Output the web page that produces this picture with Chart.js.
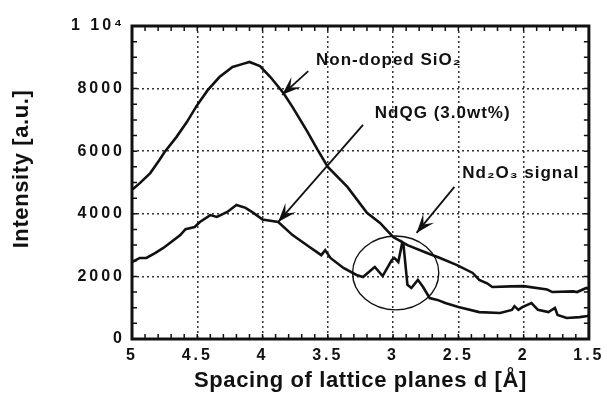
<!DOCTYPE html>
<html lang="en">
<head>
<meta charset="UTF-8">
<title>Intensity vs spacing of lattice planes</title>
<script src="https://cdn.jsdelivr.net/npm/chart.js"></script>
<style>
  body { margin: 0; background: #fff; }
  #chart { display: block; }
</style>
</head>
<body>
<canvas id="chart" width="607" height="393"></canvas>
<script>
// d spacing [A] and intensity [a.u.]
var dSio2 = [5.0, 4.985, 4.94, 4.86, 4.79, 4.75, 4.66, 4.58, 4.50, 4.42, 4.33, 4.23, 4.15, 4.10, 4.02, 3.94,
             3.84, 3.77, 3.66, 3.58, 3.50, 3.35, 3.20, 3.10, 3.00, 2.89, 2.74, 2.64, 2.51, 2.39, 2.34, 2.28,
             2.24, 2.10, 2.00, 1.82, 1.78, 1.62, 1.59, 1.52, 1.50];
var iSio2 = [4780, 4820, 4980, 5300, 5720, 5975, 6450, 6930, 7480, 7950, 8370, 8690, 8790, 8850, 8720, 8370,
             7860, 7410, 6650, 6060, 5500, 4860, 4030, 3710, 3260, 3000, 2750, 2590, 2360, 2110, 1890, 1780,
             1660, 1680, 1690, 1580, 1500, 1520, 1500, 1630, 1600];

var dNdqg = [5.0, 4.94, 4.89, 4.82, 4.76, 4.63, 4.59, 4.52, 4.48, 4.40, 4.35, 4.27, 4.20, 4.13, 4.07, 4.0,
             3.88, 3.77, 3.64, 3.55, 3.52, 3.48, 3.38, 3.28, 3.23, 3.15, 3.14, 3.08, 3.01, 2.99, 2.96, 2.93,
             2.92, 2.89, 2.86, 2.81, 2.77, 2.72, 2.66, 2.60, 2.50, 2.34, 2.18, 2.09, 2.07, 2.04, 2.01, 1.94,
             1.89, 1.81, 1.76, 1.74, 1.67, 1.57, 1.51, 1.50];
var iNdqg = [2460, 2590, 2590, 2750, 2910, 3320, 3510, 3580, 3740, 3960, 3900, 4060, 4280, 4190, 4030, 3820,
             3740, 3320, 2940, 2680, 2840, 2590, 2270, 2045, 1980, 2270, 2300, 2010, 2520, 2590, 2460, 3070,
             3000, 1730, 1630, 1890, 1660, 1310, 1250, 1150, 1020, 860, 830, 930, 1050, 930, 1020, 1150,
             930, 860, 990, 770, 670, 700, 735, 760];

var xTicks = [5, 4.5, 4, 3.5, 3, 2.5, 2, 1.5];
var yTicks = [0, 2000, 4000, 6000, 8000, 10000];

var xTitle = 'Spacing of lattice planes d [Å]';
var yTitle = 'Intensity [a.u.]';

// annotation positions in data units
var notes = [
  { text: 'Non-doped SiO₂', d: 3.59, v: 8900 },
  { text: 'NdQG (3.0wt%)', d: 3.14, v: 7220 },
  { text: 'Nd₂O₃ signal', d: 2.47, v: 5300 }
];
var arrows = [
  { from: [3.65, 8560], to: [3.85, 7800] },
  { from: [3.23, 6840], to: [3.88, 3740] },
  { from: [2.53, 4860], to: [2.82, 3390] }
];
var ring = { d: 2.98, v: 2110, rd: 0.33, rv: 1180 };

var FONT = '"Liberation Sans", Arial, Helvetica, sans-serif';

function toPoints(xs, ys) {
  var out = [];
  for (var i = 0; i < xs.length; i++) out.push({ x: xs[i], y: ys[i] });
  return out;
}

function drawArrow(ctx, x1, y1, x2, y2) {
  ctx.beginPath();
  ctx.moveTo(x1, y1);
  ctx.lineTo(x2, y2);
  ctx.stroke();
  var ang = Math.atan2(y2 - y1, x2 - x1);
  ctx.save();
  ctx.translate(x2, y2);
  ctx.rotate(ang);
  ctx.beginPath();
  ctx.moveTo(0, 0);
  ctx.lineTo(-19, -7);
  ctx.lineTo(-11, 0);
  ctx.lineTo(-19, 7);
  ctx.closePath();
  ctx.fill();
  ctx.restore();
}

var decor = {
  id: 'decor',
  beforeDraw: function (chart) {
    chart.ctx.letterSpacing = '3px';
  },
  afterDraw: function (chart) {
    var ctx = chart.ctx, sx = chart.scales.x, sy = chart.scales.y, a = chart.chartArea;
    ctx.save();
    ctx.letterSpacing = '0px';
    ctx.strokeStyle = '#111';
    ctx.fillStyle = '#111';

    // minor ticks, inward on all sides
    ctx.lineWidth = 1.5;
    ctx.beginPath();
    for (var i = 15; i <= 50; i++) {
      var px = sx.getPixelForValue(i / 10);
      ctx.moveTo(px, a.bottom); ctx.lineTo(px, a.bottom - 5);
      ctx.moveTo(px, a.top); ctx.lineTo(px, a.top + 5);
    }
    for (var v = 0; v <= 10000; v += 500) {
      var py = sy.getPixelForValue(v);
      ctx.moveTo(a.left, py); ctx.lineTo(a.left + 5, py);
      ctx.moveTo(a.right, py); ctx.lineTo(a.right - 5, py);
    }
    ctx.stroke();

    // frame
    ctx.lineWidth = 3;
    ctx.strokeRect(a.left, a.top, a.right - a.left, a.bottom - a.top);

    // circle round the Nd2O3 signal
    var cx = sx.getPixelForValue(ring.d), cy = sy.getPixelForValue(ring.v);
    var rx = Math.abs(sx.getPixelForValue(ring.d + ring.rd) - cx);
    var ry = Math.abs(sy.getPixelForValue(ring.v + ring.rv) - cy);
    ctx.lineWidth = 1.4;
    ctx.beginPath();
    ctx.ellipse(cx, cy, rx, ry, 0, 0, Math.PI * 2);
    ctx.stroke();

    // arrows
    ctx.lineWidth = 1.8;
    arrows.forEach(function (ar) {
      drawArrow(ctx,
        sx.getPixelForValue(ar.from[0]), sy.getPixelForValue(ar.from[1]),
        sx.getPixelForValue(ar.to[0]), sy.getPixelForValue(ar.to[1]));
    });

    // labels
    ctx.font = 'bold 17px ' + FONT;
    ctx.letterSpacing = '1px';
    ctx.textAlign = 'left';
    ctx.textBaseline = 'middle';
    notes.forEach(function (n) {
      ctx.fillText(n.text, sx.getPixelForValue(n.d), sy.getPixelForValue(n.v));
    });

    // axis titles
    ctx.font = 'bold 22px ' + FONT;
    ctx.letterSpacing = '0.6px';
    ctx.textAlign = 'center';
    ctx.fillText(xTitle, (a.left + a.right) / 2, 381);
    ctx.translate(22, 169);
    ctx.rotate(-Math.PI / 2);
    ctx.fillText(yTitle, 0, 0);
    ctx.restore();
  }
};

var tickFont = { family: FONT, size: 16, weight: 'bold' };

new Chart(document.getElementById('chart'), {
  type: 'scatter',
  data: {
    datasets: [
      { label: 'Non-doped SiO2', data: toPoints(dSio2, iSio2), showLine: true },
      { label: 'NdQG (3.0wt%)', data: toPoints(dNdqg, iNdqg), showLine: true }
    ]
  },
  options: {
    responsive: false,
    animation: false,
    devicePixelRatio: 1,
    layout: { padding: { left: 0, right: 18, top: 26, bottom: 0 } },
    elements: {
      point: { radius: 0 },
      line: { borderColor: '#111', borderWidth: 2.6, tension: 0 }
    },
    plugins: {
      legend: { display: false },
      tooltip: { enabled: false }
    },
    scales: {
      x: {
        type: 'linear',
        reverse: true,
        min: 1.5,
        max: 5,
        afterFit: function (s) { s.height = 54; },
        afterBuildTicks: function (s) { s.ticks = xTicks.map(function (t) { return { value: t }; }); },
        ticks: {
          color: '#111', padding: 7, font: tickFont, maxRotation: 0, autoSkip: false,
          callback: function (v) { return String(v); }
        },
        grid: { color: '#333', lineWidth: 1.5, drawTicks: false },
        border: { display: false, dash: [2, 3] }
      },
      y: {
        min: 0,
        max: 10000,
        afterFit: function (s) { s.width = 132; },
        afterBuildTicks: function (s) { s.ticks = yTicks.map(function (t) { return { value: t }; }); },
        ticks: {
          color: '#111', padding: 7, font: tickFont,
          callback: function (v) { return v === 10000 ? '1 10⁴' : String(v); }
        },
        grid: { color: '#333', lineWidth: 1.5, drawTicks: false },
        border: { display: false, dash: [2, 3] }
      }
    }
  },
  plugins: [decor]
});
</script>
</body>
</html>
